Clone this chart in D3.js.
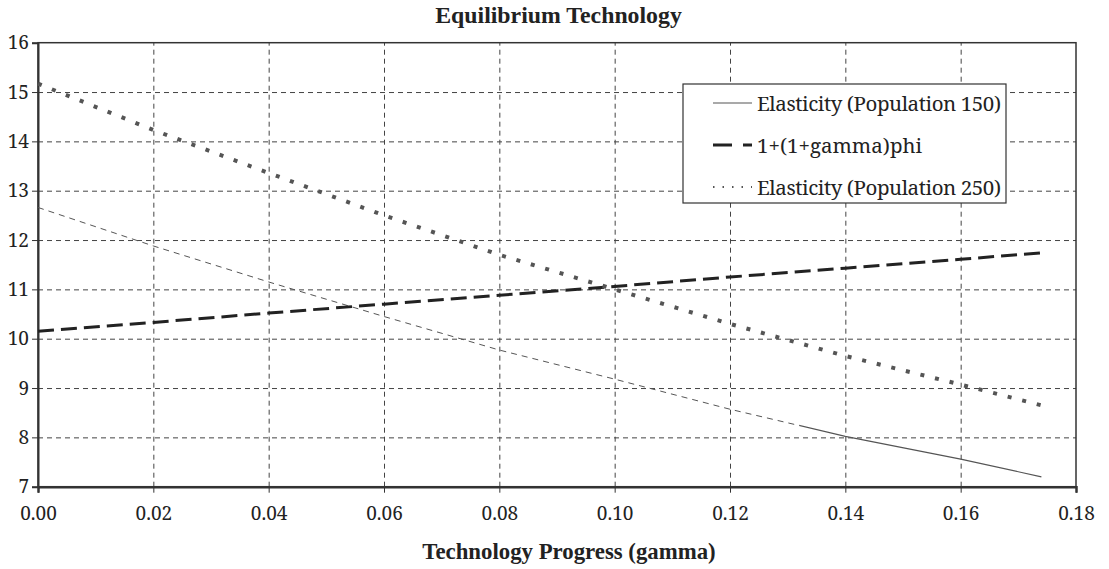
<!DOCTYPE html>
<html>
<head>
<meta charset="utf-8">
<script src="https://cdn.jsdelivr.net/npm/d3@7"></script>
<style>
  body { margin: 0; background: #fff; }
  svg text { fill: #222; }
</style>
</head>
<body>
<div id="chart"></div>
<script>
// Chart values
var gamma = [0.00, 0.02, 0.04, 0.06, 0.08, 0.10, 0.12, 0.14, 0.16, 0.174];
var elasticity150 = [12.66, 11.88, 11.15, 10.45, 9.77, 9.18, 8.57, 8.02, 7.56, 7.20];
var onePlusPhi = [10.15, 10.33, 10.52, 10.70, 10.88, 11.06, 11.25, 11.43, 11.61, 11.74];
var elasticity250 = [15.17, 14.23, 13.36, 12.50, 11.70, 11.00, 10.30, 9.65, 9.07, 8.65];
var seriesNames = ["Elasticity (Population 150)", "1+(1+gamma)phi", "Elasticity (Population 250)"];
var xTicks = [0, 0.02, 0.04, 0.06, 0.08, 0.10, 0.12, 0.14, 0.16, 0.18];
var yTicks = [7, 8, 9, 10, 11, 12, 13, 14, 15, 16];

// regular Liberation Serif falls back to sans here, so use Noto Serif for plain text
var serif = "Noto Serif, DejaVu Serif, serif";
var serifBold = "Liberation Serif, Times New Roman, serif";

// SVG area
var svgWidth = 1109;
var svgHeight = 569;
var margin = { top: 42.7, right: 33, bottom: 82.3, left: 38 };
var chartWidth = svgWidth - margin.left - margin.right;
var chartHeight = svgHeight - margin.top - margin.bottom;

var svg = d3.select("#chart")
  .append("svg")
  .attr("width", svgWidth)
  .attr("height", svgHeight)
  .attr("font-family", serif);

var chartGroup = svg.append("g")
  .attr("transform", `translate(${margin.left}, ${margin.top})`);

// Scales
var xScale = d3.scaleLinear().domain([0, 0.18]).range([0, chartWidth]);
var yScale = d3.scaleLinear().domain([7, 16]).range([chartHeight, 0]);

// Dashed grid lines
chartGroup.append("g")
  .attr("transform", `translate(0, ${chartHeight})`)
  .call(d3.axisBottom(xScale).tickValues(xTicks.slice(1, -1)).tickSize(-chartHeight).tickFormat(""))
  .call(g => g.select(".domain").remove())
  .selectAll("line")
  .attr("stroke", "#444")
  .attr("stroke-dasharray", "5,4");

chartGroup.append("g")
  .call(d3.axisLeft(yScale).tickValues(yTicks.slice(1, -1)).tickSize(-chartWidth).tickFormat(""))
  .call(g => g.select(".domain").remove())
  .selectAll("line")
  .attr("stroke", "#444")
  .attr("stroke-dasharray", "5,4");

// Plot frame
chartGroup.append("rect")
  .attr("width", chartWidth)
  .attr("height", chartHeight)
  .attr("fill", "none")
  .attr("stroke", "#333")
  .attr("stroke-width", 1.5);

// Axes with outside ticks
var bottomAxis = d3.axisBottom(xScale).tickValues(xTicks).tickSize(6).tickPadding(14)
  .tickFormat(d3.format(".2f"));
var leftAxis = d3.axisLeft(yScale).tickValues(yTicks).tickSize(6).tickPadding(3);

chartGroup.append("g")
  .attr("transform", `translate(0, ${chartHeight})`)
  .call(bottomAxis)
  .attr("font-family", serif)
  .attr("font-size", 19)
  .call(g => g.select(".domain").attr("stroke", "#333").attr("stroke-width", 2.5))
  .call(g => g.selectAll("line").attr("stroke", "#333"))
  .call(g => g.selectAll("text").attr("fill", "#222"));

chartGroup.append("g")
  .call(leftAxis)
  .attr("font-family", serif)
  .attr("font-size", 19)
  .call(g => g.select(".domain").attr("stroke", "#333").attr("stroke-width", 2))
  .call(g => g.selectAll("line").attr("stroke", "#333"))
  .call(g => g.selectAll("text").attr("fill", "#222"));

// Lines
var lineGen = d3.line()
  .x((d, i) => xScale(gamma[i]))
  .y(d => yScale(d));

// thin line looks dashed on its left part and solid near the end
var splitX = xScale(0.132);
var defs = svg.append("defs");
defs.append("clipPath").attr("id", "clipLeft")
  .append("rect").attr("x", -5).attr("y", -5).attr("width", splitX + 5).attr("height", chartHeight + 10);
defs.append("clipPath").attr("id", "clipRight")
  .append("rect").attr("x", splitX).attr("y", -5).attr("width", chartWidth).attr("height", chartHeight + 10);

chartGroup.append("path")
  .datum(elasticity150)
  .attr("clip-path", "url(#clipLeft)")
  .attr("d", lineGen)
  .attr("fill", "none")
  .attr("stroke", "#555")
  .attr("stroke-width", 1)
  .attr("stroke-dasharray", "6,5");

chartGroup.append("path")
  .datum(elasticity150)
  .attr("clip-path", "url(#clipRight)")
  .attr("d", lineGen)
  .attr("fill", "none")
  .attr("stroke", "#555")
  .attr("stroke-width", 1.2);

chartGroup.append("path")
  .datum(onePlusPhi)
  .attr("d", lineGen)
  .attr("fill", "none")
  .attr("stroke", "#222")
  .attr("stroke-width", 3)
  .attr("stroke-dasharray", "16,7");

chartGroup.append("path")
  .datum(elasticity250)
  .attr("d", lineGen)
  .attr("fill", "none")
  .attr("stroke", "#555")
  .attr("stroke-width", 4)
  .attr("stroke-dasharray", "4,11");

// Legend
var legend = svg.append("g").attr("transform", "translate(683, 84)");
legend.append("rect")
  .attr("width", 323)
  .attr("height", 119)
  .attr("fill", "#fff")
  .attr("stroke", "#333")
  .attr("stroke-width", 1.2);

var legendStyles = [
  { color: "#555", width: 1.2, dash: null },
  { color: "#222", width: 3, dash: "19,11" },
  { color: "#555", width: 2, dash: "1.5,8" }
];

seriesNames.forEach(function(name, i) {
  var rowY = 19 + i * 42;
  legend.append("line")
    .attr("x1", 30).attr("x2", 69)
    .attr("y1", rowY).attr("y2", rowY)
    .attr("stroke", legendStyles[i].color)
    .attr("stroke-width", legendStyles[i].width)
    .attr("stroke-dasharray", legendStyles[i].dash);
  legend.append("text")
    .attr("x", 74)
    .attr("y", rowY + 8)
    .attr("font-size", 20.5)
    .attr("textLength", i == 1 ? null : 244)
    .text(name);
});

// Titles
svg.append("text")
  .attr("x", 558.5)
  .attr("y", 23)
  .attr("text-anchor", "middle")
  .attr("font-family", serifBold)
  .attr("font-size", 23.8)
  .attr("font-weight", "bold")
  .text("Equilibrium Technology");

svg.append("text")
  .attr("x", 569)
  .attr("y", 559)
  .attr("text-anchor", "middle")
  .attr("font-family", serifBold)
  .attr("font-size", 22.8)
  .attr("font-weight", "bold")
  .text("Technology Progress (gamma)");
</script>
</body>
</html>
